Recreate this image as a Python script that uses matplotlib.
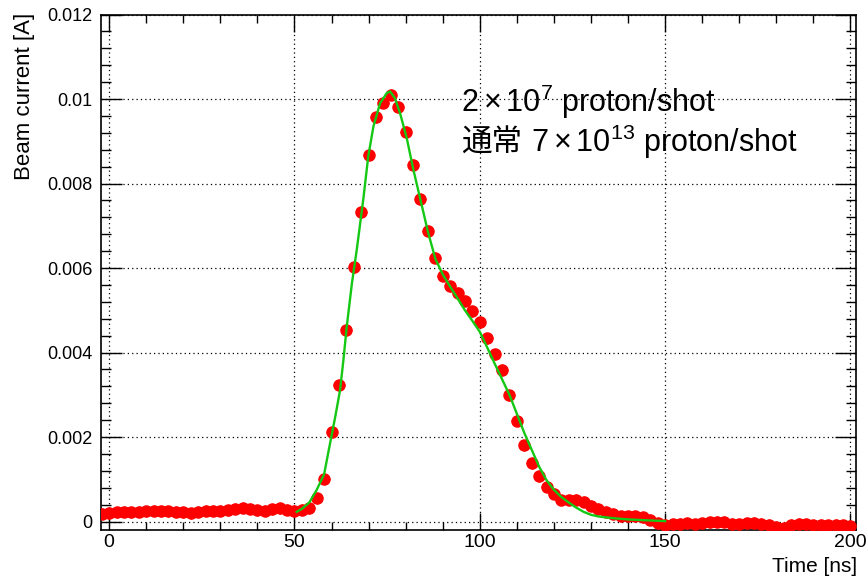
import numpy as np
import matplotlib
matplotlib.use('Agg')
import matplotlib.pyplot as plt
from matplotlib.ticker import MultipleLocator

# measured beam current (every 2 ns)
time_ns = np.arange(-2, 201, 2)
current = [
    0.00019, 0.00020, 0.00022, 0.00023, 0.00022, 0.00023, 0.00024, 0.00025,
    0.00024, 0.00024, 0.00023, 0.00022, 0.00020, 0.00023, 0.00025, 0.00026,
    0.00025, 0.00027, 0.00030, 0.00033, 0.00030, 0.00027, 0.00026, 0.00029,
    0.00031, 0.00028, 0.00025, 0.00028, 0.00031, 0.00055, 0.00101, 0.00213,
    0.00323, 0.00453, 0.00602, 0.00733, 0.00868, 0.00957, 0.00991, 0.01010,
    0.00982, 0.00923, 0.00844, 0.00763, 0.00688, 0.00624, 0.00582, 0.00557,
    0.00542, 0.00522, 0.00498, 0.00473, 0.00434, 0.00396, 0.00359, 0.00299,
    0.00238, 0.00181, 0.00138, 0.00107, 0.00082, 0.00066, 0.00051, 0.00051,
    0.00052, 0.00047, 0.00037, 0.00030, 0.00023, 0.00019, 0.00013, 0.00013,
    0.00012, 0.00010, 0.00004, -0.00004, -0.00007, -0.00006, -0.00005, -0.00004,
    -0.00006, -0.00004, -0.00002, 0.00000, -0.00001, -0.00005, -0.00006, -0.00004,
    -0.00003, -0.00005, -0.00007, -0.00012, -0.00015, -0.00008, -0.00005, -0.00006,
    -0.00009, -0.00008, -0.00009, -0.00008, -0.00009, -0.00010,
]

# green curve
fit_t = [50.6, 52, 54, 56, 58, 59.6, 61, 62.3, 63.2, 64.1, 65.5, 66.8, 68.6,
         69.9, 71.3, 73.1, 74.9, 75.8, 77.1, 78.5, 80.3, 82.1, 83.9, 86, 88,
         90, 92, 94, 96, 98, 100, 102, 104, 106, 108, 110, 112, 114, 116, 118,
         120, 122, 124, 126, 128, 130, 132, 136, 140, 145, 150]
fit_i = [0.00023, 0.00030, 0.00045, 0.00075, 0.00112, 0.00185, 0.00248,
         0.00311, 0.00382, 0.00461, 0.00564, 0.00643, 0.00765, 0.00864,
         0.00935, 0.00990, 0.01014, 0.01018, 0.01002, 0.00966, 0.00907,
         0.00832, 0.00765, 0.00686, 0.00622, 0.00585, 0.00556, 0.00528,
         0.00500, 0.00475, 0.00449, 0.00412, 0.00374, 0.00337, 0.00300,
         0.00255, 0.00210, 0.00170, 0.00130, 0.00098, 0.00075, 0.00058,
         0.00045, 0.00033, 0.00023, 0.00016, 0.00012, 0.00008, 0.00005,
         0.00003, 0.00001]

plt.rcParams['font.family'] = ['Liberation Sans', 'Noto Sans CJK JP', 'DejaVu Sans']
plt.rcParams['mathtext.fontset'] = 'custom'
plt.rcParams['mathtext.rm'] = 'Liberation Sans'
plt.rcParams['mathtext.it'] = 'Liberation Sans:italic'
plt.rcParams['mathtext.default'] = 'regular'

W, H = 866, 577
fig = plt.figure(figsize=(W / 100, H / 100), dpi=100)
ax = fig.add_axes([101 / W, 1 - 530 / H, 755 / W, 515.5 / H])

ax.errorbar(time_ns, current, xerr=1.5, yerr=0.00013, fmt='o', color='red',
            ms=8, elinewidth=1, capsize=0, zorder=3)
ax.plot(fit_t, fit_i, color='#14c814', lw=1.7, zorder=4)

ax.set_xlim(-2.2, 201.5)
ax.set_ylim(-0.0002, 0.012)
ax.xaxis.set_major_locator(MultipleLocator(50))
ax.xaxis.set_minor_locator(MultipleLocator(10))
ax.yaxis.set_major_locator(MultipleLocator(0.002))
ax.yaxis.set_minor_locator(MultipleLocator(0.0004))
ax.set_yticks([0, 0.002, 0.004, 0.006, 0.008, 0.01, 0.012])
ax.set_yticklabels(['0', '0.002', '0.004', '0.006', '0.008', '0.01', '0.012'])

ax.grid(True, which='major', color='black', lw=0.9, ls=(0, (1, 2.5)))
ax.tick_params(which='both', direction='in', top=True, right=True, width=1)
ax.tick_params(axis='x', which='major', length=12, labelsize=14, pad=3)
ax.tick_params(axis='x', which='minor', length=6)
ax.tick_params(axis='y', which='major', length=15, labelsize=13, pad=6)
ax.tick_params(axis='y', which='minor', length=7.5)
for s in ax.spines.values():
    s.set_linewidth(1.2)

fig.text(857 / W, 1 - 566 / H, 'Time [ns]', ha='right', va='center', fontsize=15)
fig.text(25 / W, 1 - 13 / H, 'Beam current [A]', rotation=90, ha='center',
         va='top', fontsize=16)

# annotation (Japanese part drawn separately so the CJK font is used)
fig.text(461 / W, 1 - 112 / H, r'$2\times10^{7}$ proton/shot', fontsize=22,
         va='baseline')
fig.text(461 / W, 1 - 152 / H, '通常', fontsize=22, va='baseline',
         family=['Noto Sans CJK JP'])
fig.text(531 / W, 1 - 152 / H, r'$7\times10^{13}$ proton/shot', fontsize=22,
         va='baseline')

fig.savefig('out.png', dpi=100)
